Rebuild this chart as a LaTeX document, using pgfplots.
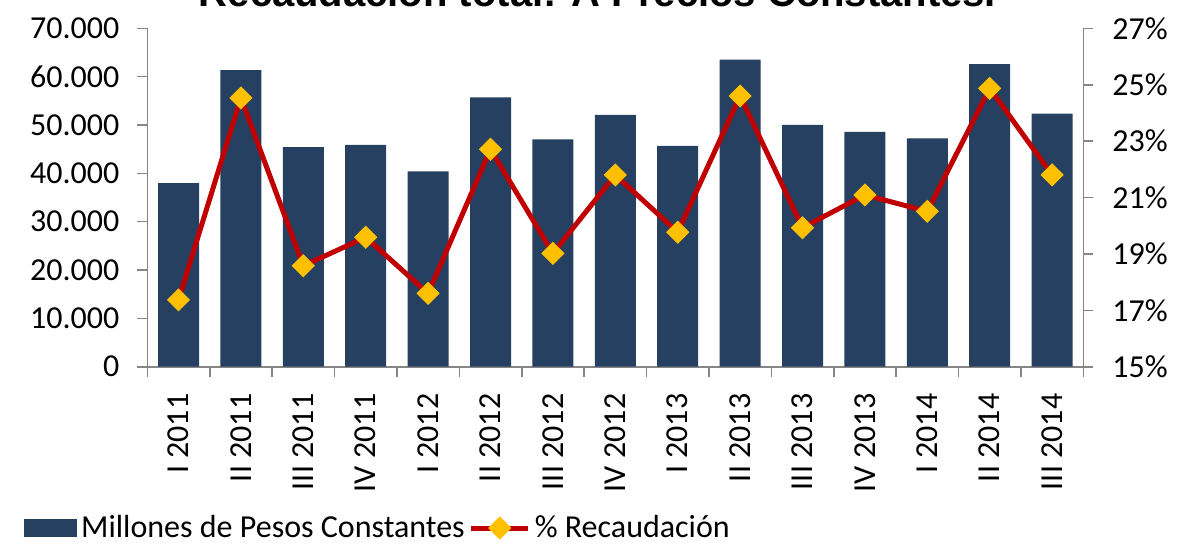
\documentclass[border=0pt]{standalone}
\usepackage{fontspec}
\setmainfont{Carlito}
\newfontfamily\titlefont{Liberation Sans}
\usepackage{pgfplots}
\pgfplotsset{compat=1.18}
\definecolor{navy}{HTML}{264061}
\definecolor{lred}{HTML}{C00000}
\definecolor{gold}{HTML}{FFC000}
\definecolor{axgray}{HTML}{868686}
\begin{document}
\begin{tikzpicture}
\pgfplotsset{
  base/.style={
    width=468pt, height=169.2pt, scale only axis,
    at={(73.65pt,-183.35pt)}, anchor=south west,
    xmin=-0.5, xmax=14.5,
    clip=false,
    tick label style={font=\fontsize{16}{19}\selectfont},
    /pgf/number format/assume math mode=true,
    axis line style={axgray, line width=0.8pt},
    every tick/.style={axgray, line width=0.8pt},
    tick align=outside,
    major tick length=5pt, minor tick length=5pt,
  }
}
\begin{axis}[base,
  axis x line*=bottom, axis y line*=left,
  ymin=0, ymax=70000, ytick={0,10000,...,70000},
  scaled y ticks=false,
  yticklabel style={/pgf/number format/.cd, 1000 sep={.}, /tikz/.cd, xshift=-5.5pt},
  xtick={0,...,14},
  xticklabels={I 2011, II 2011, III 2011, IV 2011, I 2012, II 2012, III 2012, IV 2012, I 2013, II 2013, III 2013, IV 2013, I 2014, II 2014, III 2014},
  xticklabel style={rotate=90, anchor=east},
  xticklabel shift=5pt,
  major x tick style={draw=none},
  minor xtick={-0.5,0.5,...,14.5},
]
\addplot[ybar, bar width=20.5pt, fill=navy, draw=none] coordinates {
(0,38000) (1,61330) (2,45400) (3,45870) (4,40430) (5,55740) (6,47050) (7,52080)
(8,45660) (9,63520) (10,50010) (11,48560) (12,47260) (13,62570) (14,52350)};
\end{axis}
\begin{axis}[base,
  axis y line*=right, axis x line=none,
  ymin=15, ymax=27, ytick={15,17,...,27},
  yticklabel={\pgfmathprintnumber{\tick}\%},
  yticklabel style={xshift=6pt},
  legend style={at={(-0.1317,-0.4767)}, anchor=west, draw=none, fill=none,
    inner sep=0pt, font=\fontsize{16}{19}\selectfont,
    /tikz/every even column/.append style={column sep=0pt}},
  legend columns=2, legend cell align=left,
]
\addlegendimage{legend image code/.code={\fill[navy] (0pt,-4.25pt) rectangle (26pt,4.25pt);}}
\addlegendentry{Millones de Pesos Constantes}
\addplot[lred, line width=2.5pt, mark=square*, mark size=3.8pt,
  mark options={rotate=45, fill=gold, draw=gold, line width=0.6pt},
  legend image code/.code={\draw[lred, line width=2.5pt] (0pt,0pt) -- (28.5pt,0pt);
    \draw[gold, fill=gold, line width=0.6pt, rotate around={45:(14.25pt,0pt)}] (10.45pt,-3.8pt) rectangle (18.05pt,3.8pt);}]
coordinates {
(0,17.37) (1,24.53) (2,18.58) (3,19.59) (4,17.60) (5,22.71) (6,19.02) (7,21.80)
(8,19.77) (9,24.60) (10,19.93) (11,21.09) (12,20.51) (13,24.87) (14,21.80)};
\addlegendentry{\% Recaudación}
\end{axis}
\node[anchor=base, font=\titlefont\bfseries\fontsize{20}{24}\selectfont] at (298.75pt,-3pt) {Recaudación total: A Precios Constantes.};
\pgfresetboundingbox
\path[use as bounding box] (0,0) rectangle (593pt,-273.5pt);
\end{tikzpicture}
\end{document}
